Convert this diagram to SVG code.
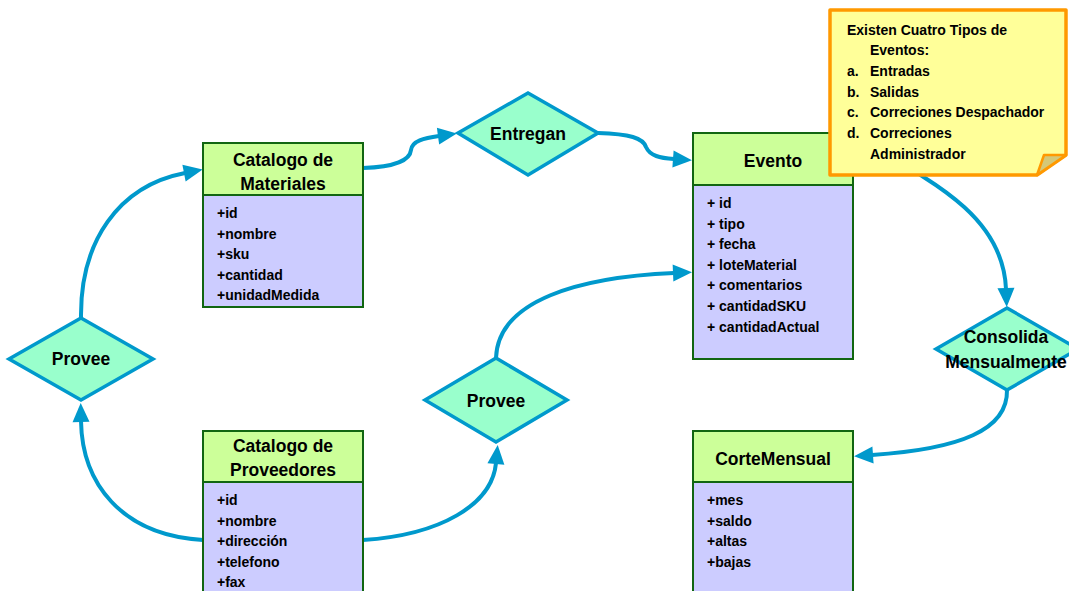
<svg xmlns="http://www.w3.org/2000/svg" width="1069" height="591" viewBox="0 0 1069 591">
<style>
.hdr{fill:#CCFF99;stroke:#116611;stroke-width:2}
.bdy{fill:#CCCCFF;stroke:#116611;stroke-width:2}
.dia{fill:#99FFCC;stroke:#0099CC;stroke-width:3.5}
.con{fill:none;stroke:#0099CC;stroke-width:4}
.t{font-family:"Liberation Sans",Arial,sans-serif;font-weight:bold;fill:#000}
.big{font-size:17.5px;text-anchor:middle}
.att{font-size:14px}
</style>
<defs>
<marker id="ah" markerUnits="userSpaceOnUse" markerWidth="20" markerHeight="18" refX="1" refY="8.5" orient="auto" overflow="visible">
<path d="M0,0 L19,8.5 L0,17 z" fill="#0099CC"/>
</marker>
</defs>
<g id="connectors">
<path class="con" marker-end="url(#ah)" d="M81,318 C80,242 118,186 185,173"/>
<path class="con" marker-end="url(#ah)" d="M203,540 C120,535 82,482 81,421"/>
<path class="con" marker-end="url(#ah)" d="M363,168 C395,167 410,160 411,150 C412,141 424,138 439,136"/>
<path class="con" marker-end="url(#ah)" d="M598,133 C630,134 643,138 646,147 C650,156 660,158 674,159"/>
<path class="con" marker-end="url(#ah)" d="M496,358 C498,300 580,277 674,273"/>
<path class="con" marker-end="url(#ah)" d="M363,540 C440,535 492,505 496,463"/>
<path class="con" marker-end="url(#ah)" d="M860,140 C930,180 1003,215 1006,289"/>
<path class="con" marker-end="url(#ah)" d="M1007,390 C1008,430 960,449 872,455"/>
</g>
<g id="catalogo-materiales">
<rect class="hdr" x="203" y="143" width="160" height="52"/>
<rect class="bdy" x="203" y="195" width="160" height="112"/>
<text class="t big" x="283" y="166">Catalogo de</text>
<text class="t big" x="283" y="190">Materiales</text>
<text class="t att" x="217" y="218">+id</text>
<text class="t att" x="217" y="239">+nombre</text>
<text class="t att" x="217" y="259">+sku</text>
<text class="t att" x="217" y="280">+cantidad</text>
<text class="t att" x="217" y="300">+unidadMedida</text>
</g>
<g id="catalogo-proveedores">
<rect class="hdr" x="203" y="431" width="160" height="51"/>
<rect class="bdy" x="203" y="482" width="160" height="120"/>
<text class="t big" x="283" y="452">Catalogo de</text>
<text class="t big" x="283" y="476">Proveedores</text>
<text class="t att" x="217" y="505">+id</text>
<text class="t att" x="217" y="526">+nombre</text>
<text class="t att" x="217" y="546">+dirección</text>
<text class="t att" x="217" y="567">+telefono</text>
<text class="t att" x="217" y="587">+fax</text>
</g>
<g id="evento">
<rect class="hdr" x="693" y="133" width="160" height="52"/>
<rect class="bdy" x="693" y="185" width="160" height="174"/>
<text class="t big" x="773" y="167">Evento</text>
<text class="t att" x="707" y="208">+ id</text>
<text class="t att" x="707" y="229">+ tipo</text>
<text class="t att" x="707" y="249">+ fecha</text>
<text class="t att" x="707" y="270">+ loteMaterial</text>
<text class="t att" x="707" y="290">+ comentarios</text>
<text class="t att" x="707" y="311">+ cantidadSKU</text>
<text class="t att" x="707" y="332">+ cantidadActual</text>
</g>
<g id="corte-mensual">
<rect class="hdr" x="693" y="431" width="160" height="51"/>
<rect class="bdy" x="693" y="482" width="160" height="120"/>
<text class="t big" x="773" y="465">CorteMensual</text>
<text class="t att" x="707" y="505">+mes</text>
<text class="t att" x="707" y="526">+saldo</text>
<text class="t att" x="707" y="546">+altas</text>
<text class="t att" x="707" y="567">+bajas</text>
</g>
<g id="entregan">
<polygon class="dia" points="528,93 598,133 528,175 458,133"/>
<text class="t big" x="528" y="140">Entregan</text>
</g>
<g id="provee-1">
<polygon class="dia" points="81,318 153,359 81,400 9,359"/>
<text class="t big" x="81" y="365">Provee</text>
</g>
<g id="provee-2">
<polygon class="dia" points="496,358 567,400 496,442 425,400"/>
<text class="t big" x="496" y="407">Provee</text>
</g>
<g id="consolida">
<polygon class="dia" points="1007,308 1078,349 1007,390 936,349"/>
<text class="t big" x="1006" y="343">Consolida</text>
<text class="t big" x="1006" y="368">Mensualmente</text>
</g>
<g id="nota">
<polygon points="830,10 1066,10 1066,155 1037,175 830,175" fill="#FFFF99" stroke="#FF9900" stroke-width="3.5" stroke-linejoin="round"/>
<polygon points="1037,175 1044,155 1066,155" fill="#D4C878" stroke="#FF9900" stroke-width="2.5" stroke-linejoin="round"/>
<text class="t att" x="847" y="35">Existen Cuatro Tipos de</text>
<text class="t att" x="870" y="55">Eventos:</text>
<text class="t att" x="847" y="76">a.</text>
<text class="t att" x="870" y="76">Entradas</text>
<text class="t att" x="847" y="97">b.</text>
<text class="t att" x="870" y="97">Salidas</text>
<text class="t att" x="847" y="117">c.</text>
<text class="t att" x="870" y="117">Correciones Despachador</text>
<text class="t att" x="847" y="138">d.</text>
<text class="t att" x="870" y="138">Correciones</text>
<text class="t att" x="870" y="159">Administrador</text>
</g>
</svg>
